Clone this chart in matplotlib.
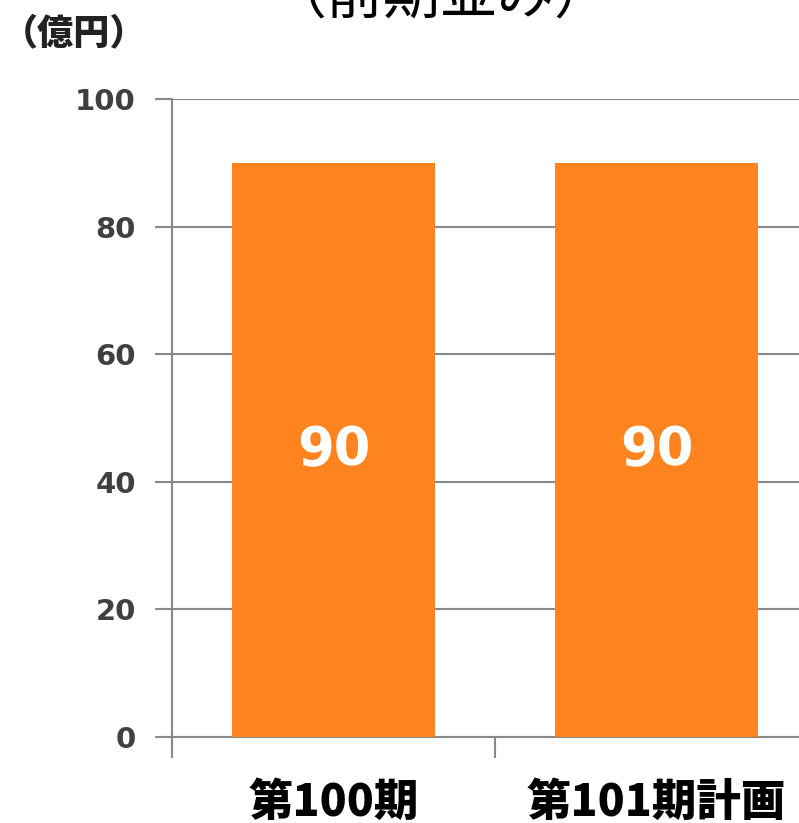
import matplotlib
matplotlib.use("Agg")
import matplotlib.pyplot as plt

categories = ["第100期", "第101期計画"]
values = [90, 90]
yticks = [0, 20, 40, 60, 80, 100]
unit_label = "（億円）"
title = "（前期並み）"

bar_color = "#FF8420"
grid_color = "#898989"

plt.rcParams['font.family'] = ['Noto Sans CJK JP', 'DejaVu Sans']

fig = plt.figure(figsize=(7.99, 8.23), dpi=100)
ax = fig.add_axes([172/799, (823-737)/823, 646/799, (737-99)/823])

x = [0.5, 1.5]
ax.bar(x, values, width=0.63, color=bar_color, zorder=3)
ax.set_xlim(0, 2)
ax.set_ylim(0, 100)

ax.set_yticks(yticks)
ax.set_yticklabels([str(t) for t in yticks], fontsize=21, fontweight='bold',
                   color='#404040', family=['DejaVu Sans'])
ax.tick_params(axis='y', length=12, width=1.5, color=grid_color, pad=14)
ax.yaxis.grid(True, color=grid_color, linewidth=1.5, zorder=0)

ax.set_xticks([0, 1, 2])
ax.set_xticklabels([])
ax.tick_params(axis='x', length=15, width=1.5, color=grid_color)
for xi, c in zip(x, categories):
    ax.text(xi, -65/638, c, transform=ax.get_xaxis_transform(), ha='center', va='center',
            fontsize=32, fontweight='heavy', color='black')

for s in ['top', 'right']:
    ax.spines[s].set_visible(False)
ax.spines['left'].set_color(grid_color)
ax.spines['left'].set_linewidth(1.5)
ax.spines['bottom'].set_color(grid_color)
ax.spines['bottom'].set_linewidth(1.5)

for xi, v in zip(x, values):
    ax.text(xi, v / 2, str(v), ha='center', va='center', fontsize=38,
            fontweight='bold', color='white', family=['DejaVu Sans'], zorder=4)

fig.text(2/799, 1 - 33/823, unit_label, ha='left', va='center', fontsize=26,
         fontweight='heavy', color='#222222')
fig.text(440/799, 1 - 14/823, title, ha='center', va='baseline', fontsize=41,
         color='black')

fig.savefig("out.png", dpi=100)
